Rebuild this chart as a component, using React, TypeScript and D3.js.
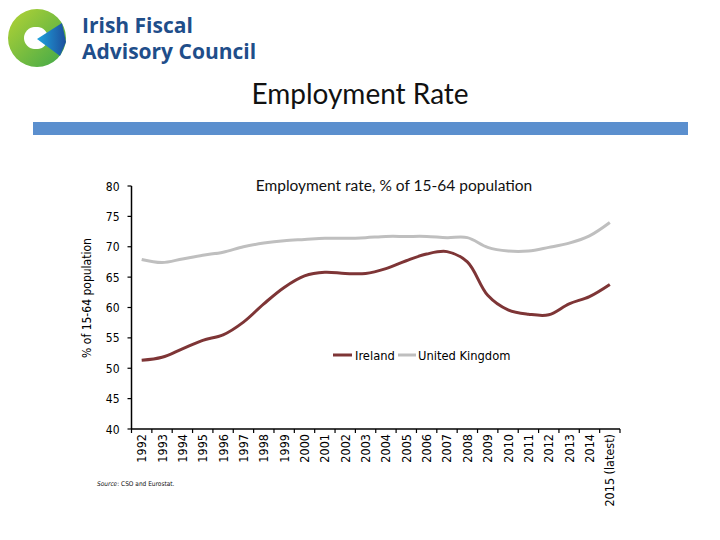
import React from "react";
import * as d3 from "d3";

const years = ["1992","1993","1994","1995","1996","1997","1998","1999","2000","2001","2002","2003","2004","2005","2006","2007","2008","2009","2010","2011","2012","2013","2014","2015 (latest)"];
const ireland = [51.3,51.8,53.2,54.6,55.5,57.6,60.6,63.3,65.2,65.8,65.6,65.6,66.4,67.7,68.8,69.2,67.5,62.0,59.6,58.9,58.8,60.6,61.8,63.8];
const uk = [67.9,67.4,68.0,68.6,69.1,70.0,70.6,71.0,71.2,71.4,71.4,71.5,71.7,71.7,71.7,71.5,71.5,69.9,69.3,69.3,69.9,70.6,71.8,74.0];
const yTicks = [40,45,50,55,60,65,70,75,80];
const seriesNames = ["Ireland", "United Kingdom"];
const seriesColors = ["#7E3536", "#BFBFBF"];

export default function App() {
  const W = 720, H = 540;
  const left = 131.5, right = 620, top = 186, bottom = 429;
  const x = d3.scaleBand<string>().domain(years).range([left, right]);
  const y = d3.scaleLinear().domain([40, 80]).range([bottom, top]);
  const line = d3.line<number>()
    .x((_, i) => (x(years[i]) as number) + x.bandwidth() / 2)
    .y((d) => y(d))
    .curve(d3.curveCatmullRom.alpha(0.5));
  const series = [ireland, uk];
  const tickXs = years.map((yr) => x(yr) as number).concat([right]);
  const axisFont = "'DejaVu Sans Condensed', sans-serif";

  const cx = 37, cy = 38, R = 29, r = 11;
  const ring = d3.arc()({ innerRadius: r, outerRadius: R, startAngle: 0, endAngle: 2 * Math.PI }) as string;

  return (
    <svg width={W} height={H} style={{ position: "absolute", left: 0, top: 0, background: "#fff" }}>
      <defs>
        <linearGradient id="gr" x1="0" y1="0" x2="1" y2="1">
          <stop offset="0" stopColor="#B5D334" />
          <stop offset="1" stopColor="#3FA84A" />
        </linearGradient>
        <linearGradient id="bl" x1="0" y1="0" x2="1" y2="0">
          <stop offset="0" stopColor="#1FA3DE" />
          <stop offset="1" stopColor="#1D4F9C" />
        </linearGradient>
      </defs>
      <rect x={0} y={0} width={W} height={H} fill="#fff" />
      {/* logo */}
      <g>
        <path d={ring} transform={`translate(${cx},${cy})`} fill="url(#gr)" fillRule="evenodd" />
        <circle cx={cx - 2} cy={cy} r={r} fill="#fff" />
        <polygon points={`${cx},${cy + 1} ${cx + 25},${cy - 15} ${cx + 29},${cy + 4} ${cx + 23},${cy + 18}`} fill="url(#bl)" />
        <text x={82} y={33} fontFamily="'Open Sans', sans-serif" fontWeight={700} fontSize={21} fill="#1F4E8A">Irish Fiscal</text>
        <text x={82} y={59} fontFamily="'Open Sans', sans-serif" fontWeight={700} fontSize={21} fill="#1F4E8A">Advisory Council</text>
      </g>
      <text x={360} y={104} textAnchor="middle" fontFamily="Lato, sans-serif" fontSize={28} fill="#111">Employment Rate</text>
      <rect x={33} y={122} width={655} height={13} fill="#5B8FCE" />

      <text x={394} y={191} textAnchor="middle" fontFamily="Lato, sans-serif" fontSize={15.5} fill="#111">Employment rate, % of 15-64 population</text>

      {/* y axis */}
      <line x1={left} x2={left} y1={top} y2={bottom} stroke="#000" strokeWidth={1.5} />
      {yTicks.map((t) => (
        <g key={t}>
          <line x1={left - 4} x2={left} y1={y(t)} y2={y(t)} stroke="#000" strokeWidth={1.2} />
          <text x={left - 12} y={y(t) + 4.5} textAnchor="end" fontFamily={axisFont} fontSize={12} fill="#000">{t}</text>
        </g>
      ))}
      <text transform={`translate(91,298) rotate(-90)`} textAnchor="middle" fontFamily={axisFont} fontSize={12} fill="#000">% of 15-64 population</text>

      {/* x axis */}
      <line x1={left} x2={right} y1={bottom} y2={bottom} stroke="#000" strokeWidth={1.5} />
      {tickXs.map((tx, i) => (
        <line key={i} x1={tx} x2={tx} y1={bottom} y2={bottom + 4} stroke="#000" strokeWidth={1.2} />
      ))}
      {years.map((yr) => {
        const px = (x(yr) as number) + x.bandwidth() / 2;
        return (
          <text key={yr} transform={`translate(${px + 4.5},${bottom + 5}) rotate(-90)`} textAnchor="end" fontFamily={axisFont} fontSize={12.5} fill="#000">{yr}</text>
        );
      })}

      {/* series */}
      {series.map((s, i) => (
        <path key={i} d={line(s) as string} fill="none" stroke={seriesColors[i]} strokeWidth={3} strokeLinejoin="round" />
      ))}

      {/* legend */}
      <line x1={333} x2={352} y1={355} y2={355} stroke={seriesColors[0]} strokeWidth={3} />
      <text x={355} y={359.5} fontFamily={axisFont} fontSize={12.8} fill="#000">{seriesNames[0]}</text>
      <line x1={398} x2={416} y1={355} y2={355} stroke={seriesColors[1]} strokeWidth={3} />
      <text x={418} y={359.5} fontFamily={axisFont} fontSize={12.8} fill="#000">{seriesNames[1]}</text>

      <text x={97} y={486} fontFamily={axisFont} fontSize={6.5} fill="#111"><tspan fontStyle="italic">Source</tspan>: CSO and Eurostat.</text>
    </svg>
  );
}
